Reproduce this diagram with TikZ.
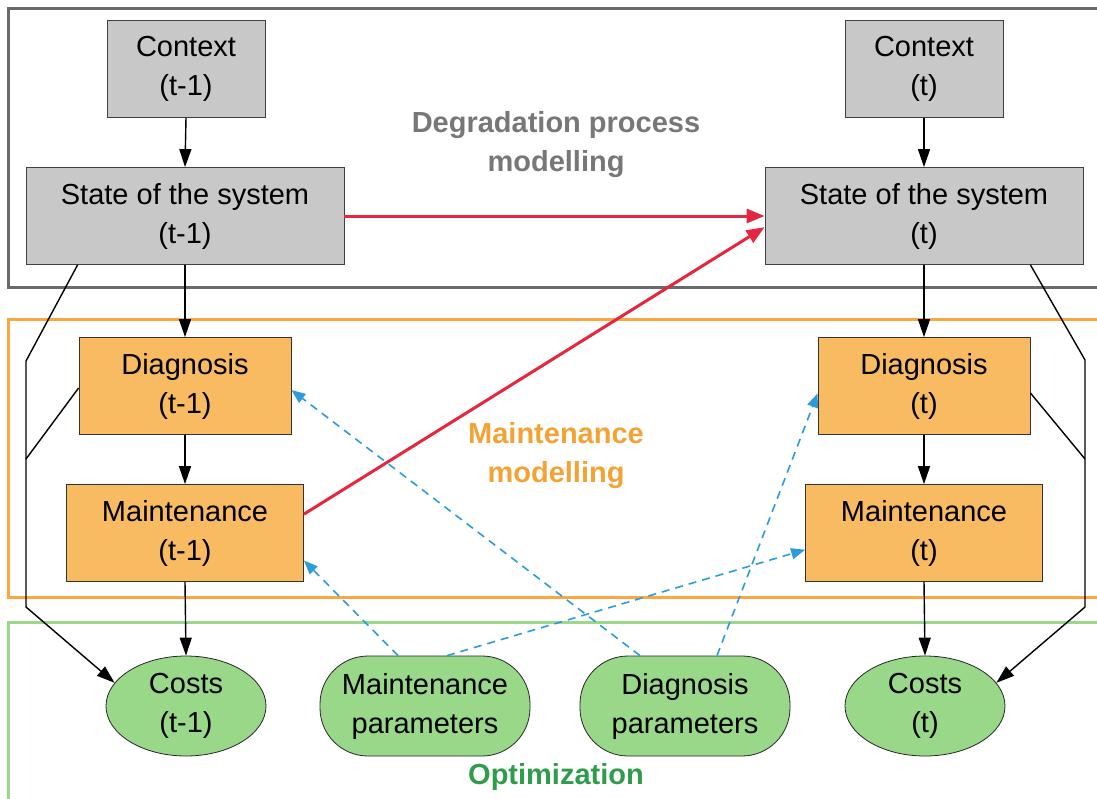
\documentclass[tikz,border=0pt]{standalone}
\usepackage{fontspec}
\setmainfont{Liberation Sans}
\usetikzlibrary{arrows.meta,shapes.geometric}

\definecolor{boxgray}{HTML}{C8C8C8}
\definecolor{boxorange}{HTML}{F8BB62}
\definecolor{boxgreen}{HTML}{98D888}
\definecolor{framegray}{HTML}{6A6A6A}
\definecolor{frameorange}{HTML}{F9A73E}
\definecolor{framegreen}{HTML}{9BD88A}
\definecolor{textgray}{HTML}{777777}
\definecolor{textorange}{HTML}{F5A235}
\definecolor{textgreen}{HTML}{2E9C4B}
\definecolor{linkred}{HTML}{E5263F}
\definecolor{linkblue}{HTML}{2E9BD9}

\begin{document}
\begin{tikzpicture}[
    x=0.5pt, y=-0.5pt,
    font=\fontsize{14.5}{19.5}\selectfont,
    every node/.style={align=center, inner sep=0pt},
    boxtext/.style={execute at begin node={\rule{0pt}{14.5pt}}},
    graybox/.style={boxtext, rectangle, draw=black!75, fill=boxgray, minimum height=48.5pt},
    orangebox/.style={boxtext, rectangle, draw=black!80, fill=boxorange, minimum height=48.5pt},
    costnode/.style={boxtext, ellipse, draw=black!85, fill=boxgreen, minimum width=80pt, minimum height=50pt},
    paramnode/.style={boxtext, rectangle, rounded corners=24pt, draw=black!85, fill=boxgreen, minimum width=105pt, minimum height=50pt},
    flow/.style={-{Triangle[length=9pt,width=6pt]}, line width=0.7pt},
    link/.style={line width=0.7pt},
    redlink/.style={-{Triangle[length=9pt,width=7pt]}, linkred, line width=1.5pt},
    bluelink/.style={-{Triangle[length=7pt,width=5.5pt]}, linkblue, line width=0.8pt, dash pattern=on 4pt off 3pt},
    frame/.style={line width=1.5pt},
    title/.style={font=\fontsize{14.5}{19.5}\selectfont\bfseries}
]
    \clip (0,0) rectangle (1097,798);

    % Frames
    \draw[frame, framegray] (1110,8) -- (8,8) -- (8,287) -- (1110,287);
    \draw[frame, frameorange] (1110,319) -- (8,319) -- (8,597) -- (1110,597);
    \draw[frame, framegreen] (1110,622) -- (8,622) -- (8,810);

    \node[title, textgray] (degr) at (556,145) {Degradation process\\modelling};
    \node[title, textorange] (maint) at (556,456) {Maintenance\\modelling};
    \node[title, textgreen] (optim) at (556,777) {Optimization};

    % Time step t-1
    \node[graybox, minimum width=79pt] (ctxA) at (186,69) {Context\\(t-1)};
    \node[graybox, minimum width=159pt] (sysA) at (185,216) {State of the system\\(t-1)};
    \node[orangebox, minimum width=106pt] (diagA) at (185,386) {Diagnosis\\(t-1)};
    \node[orangebox, minimum width=118.5pt] (maintA) at (185,533) {Maintenance\\(t-1)};
    \node[costnode] (costA) at (186,706) {Costs\\(t-1)};

    % Time step t
    \node[graybox, minimum width=79pt] (ctxB) at (924,69) {Context\\(t)};
    \node[graybox, minimum width=159pt] (sysB) at (924,216) {State of the system\\(t)};
    \node[orangebox, minimum width=106pt] (diagB) at (924,386) {Diagnosis\\(t)};
    \node[orangebox, minimum width=118.5pt] (maintB) at (924,533) {Maintenance\\(t)};
    \node[costnode] (costB) at (925,706) {Costs\\(t)};

    % Parameters
    \node[paramnode] (mparam) at (425,706) {Maintenance\\parameters};
    \node[paramnode] (dparam) at (685,706) {Diagnosis\\parameters};

    \foreach \a/\b in {ctxA/sysA, sysA/diagA, diagA/maintA, maintA/costA,
                       ctxB/sysB, sysB/diagB, diagB/maintB, maintB/costB}
        \draw[flow] (\a.south) -- (\b.north);

    % Side links to the costs
    \coordinate (bendA1) at (26,361);
    \coordinate (bendA2) at (26,459);
    \coordinate (bendA3) at (26,607);
    \coordinate (bendB1) at (1085,360);
    \coordinate (bendB2) at (1085,459);
    \coordinate (bendB3) at (1085,607);
    \draw[flow] ([xshift=26pt]sysA.south west) -- (bendA1) -- (bendA3) -- (costA.162);
    \draw[link] ([yshift=-1pt]diagA.west) -- (bendA2);
    \draw[flow] ([xshift=-26.5pt]sysB.south east) -- (bendB1) -- (bendB3) -- (costB.18);
    \draw[link] ([yshift=-3.5pt]diagB.east) -- (bendB2);

    % Transitions
    \draw[redlink] (sysA.east) -- (sysB.west);
    \draw[redlink] (maintA.9) -- (sysB.184);

    \draw[bluelink] ([xshift=-22.5pt]dparam.north) -- ([yshift=-2pt]diagA.east);
    \draw[bluelink] ([xshift=-13.5pt]mparam.north) -- (maintA.-13);
    \draw[bluelink] ([xshift=11pt]mparam.north) -- (maintB.-172);
    \draw[bluelink] ([xshift=16pt]dparam.north) -- (diagB.184);
\end{tikzpicture}
\end{document}
